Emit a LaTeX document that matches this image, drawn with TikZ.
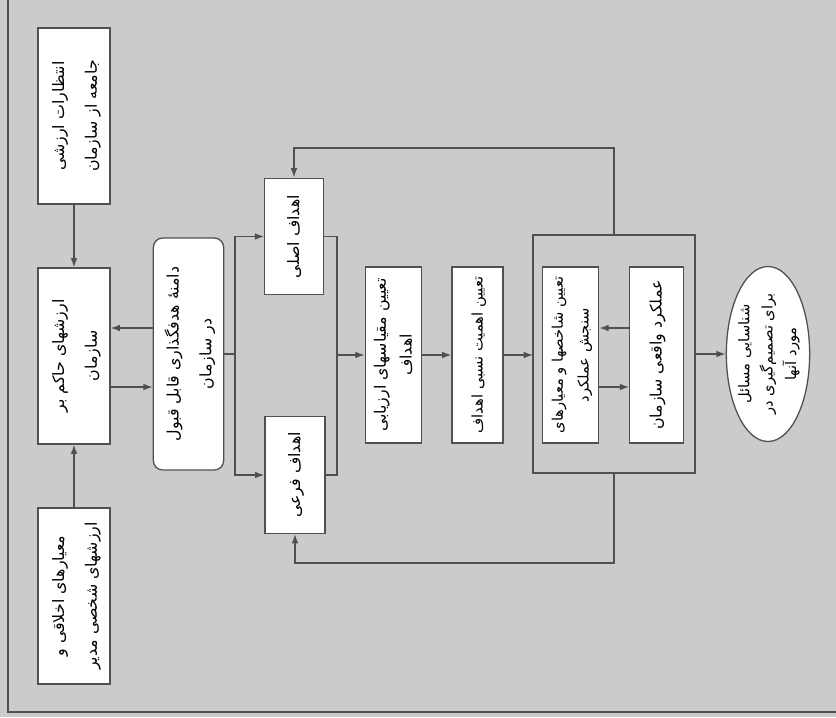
\documentclass[tikz,border=0pt]{standalone}
\usepackage{fontspec}
\usepackage{graphicx}
\newfontfamily\farsi[Script=Arabic]{DejaVu Sans}
\TeXXeTstate=1
\usetikzlibrary{arrows.meta,shapes.geometric,calc}

\definecolor{paper}{RGB}{203,203,205}
\definecolor{ink}{RGB}{80,80,80}
\newcommand{\fa}[1]{\beginR #1\endR}
\newcommand{\vtext}[1]{\rotatebox{90}{\begin{tabular}{@{}c@{}}#1\end{tabular}}}

\begin{document}
\begin{tikzpicture}[
  x=0.03cm, y=-0.03cm,
  box/.style={draw=ink, line width=1.1pt, fill=white, inner sep=2pt,
    font=\farsi\fontsize{13.5}{22}\selectfont},
  wide/.style={font=\farsi\fontsize{13.5}{28}\selectfont},
  small/.style={font=\farsi\fontsize{12.5}{22}\selectfont},
  tall/.style={box, minimum width=#1, minimum height=5.28cm},
  arr/.style={-{Latex[length=2.8mm,width=2mm]}, ink, line width=1.1pt},
  ln/.style={ink, line width=1.1pt}
]
\fill[paper] (0,0) rectangle (836,717);
\useasboundingbox (0,0) rectangle (836,717);
\draw[ln] (8,0) -- (8,712) -- (836,712);

% left column
\node[tall=2.16cm, wide] (expect) at (74,116) {\vtext{\fa{انتظارات ارزشی}\\\fa{جامعه از سازمان}}};
\node[tall=2.16cm, wide] (values) at (74,356) {\vtext{\fa{ارزشهای حاکم بر}\\\fa{سازمان}}};
\node[tall=2.16cm, wide] (ethics) at (74,596) {\vtext{\fa{معیارهای اخلاقی و}\\\fa{ارزشهای شخصی مدیر}}};
\node[box, wide, rounded corners=8pt, minimum width=2cm, minimum height=6.96cm] (scope) at (188.5,354)
  {\vtext{\fa{دامنهٔ هدفگذاری قابل قبول}\\\fa{در سازمان}}};

% goals
\node[box, minimum width=1.75cm, minimum height=3.5cm] (maingoal) at (294,236.5) {\vtext{\fa{اهداف اصلی}}};
\node[box, minimum width=1.8cm, minimum height=3.5cm] (subgoal) at (295,475) {\vtext{\fa{اهداف فرعی}}};
\node[tall=1.6cm] (scales) at (393.5,355) {\vtext{\fa{تعیین مقیاسهای ارزیابی}\\\fa{اهداف}}};
\node[tall=1.53cm, small] (weight) at (477.5,355) {\vtext{\fa{تعیین اهمیت نسبی اهداف}}};

% performance
\draw[ln] (533,235) rectangle (695,473);
\coordinate (perfN) at (614,235);
\coordinate (perfS) at (614,473);
\coordinate (perfW) at (533,355);
\coordinate (perfE) at (695,354);
\node[tall=1.65cm, small] (criteria) at (570.5,355) {\vtext{\fa{تعیین شاخصها و معیارهای}\\\fa{سنجش عملکرد}}};
\node[tall=1.6cm] (actual) at (656.5,355) {\vtext{\fa{عملکرد واقعی سازمان}}};
\node[box, ellipse, inner sep=-6pt, minimum width=2.5cm, minimum height=5.25cm,
  font=\farsi\fontsize{12.5}{20}\selectfont] (issues) at (768,354)
  {\vtext{\fa{شناسایی مسائل}\\\fa{برای تصمیم‌گیری در}\\\fa{مورد آنها}}};

\draw[arr] (expect) -- (values);
\draw[arr] (ethics) -- (values);
\draw[arr] (scope.west |- 0,328) -- (values.east |- 0,328);
\draw[arr] (values.east |- 0,387) -- (scope.west |- 0,387);

\coordinate (split) at (235,354);
\draw[ln] (scope.east) -- (split);
\draw[arr] (split) |- (maingoal.west);
\draw[arr] (split) |- (subgoal.west);
\coordinate (join) at (337,355);
\draw[ln] (maingoal.east) -| (join) |- (subgoal.east);
\draw[arr] (join) -- (scales.west |- join);
\draw[arr] (scales) -- (weight);
\draw[arr] (weight.east) -- (perfW);

\draw[arr] (actual.west |- 0,328) -- (criteria.east |- 0,328);
\draw[arr] (criteria.east |- 0,387) -- (actual.west |- 0,387);
\draw[arr] (perfE) -- (issues.west);

% feedback loops
\coordinate (loopT) at (614,148);
\coordinate (loopB) at (614,563);
\draw[arr] (perfN) -- (loopT) -| (maingoal.north);
\draw[arr] (perfS) -- (loopB) -| (subgoal.south);
\end{tikzpicture}
\end{document}
